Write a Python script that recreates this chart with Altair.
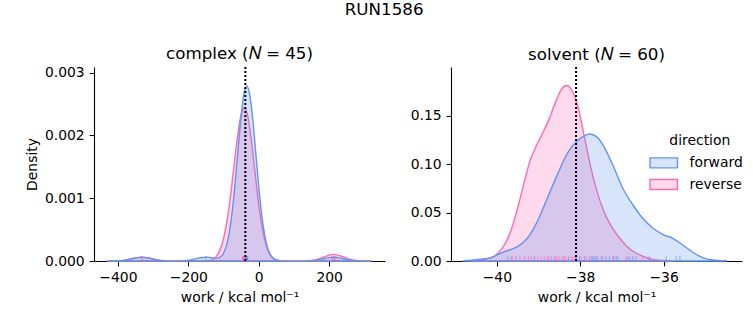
import altair as alt
import pandas as pd

FONT = "DejaVu Sans"
BLUE = "#6495ED"
PINK = "#FF69B4"
BLUE_FILL = "rgba(100,149,237,0.25)"
PINK_FILL = "rgba(255,105,180,0.25)"
DIRECTIONS = ["forward", "reverse"]

suptitle = "RUN1586"
complex_title = "complex (\U0001D441 = 45)"
solvent_title = "solvent (\U0001D441 = 60)"
x_title = "work / kcal mol\u207b\u00b9"
estimate = -38.1

# ---- complex panel: density curves ----
cf_x = [-430, -400, -380, -360, -345, -332, -318, -300, -280, -260, -240, -220, -200,
        -180, -165, -150, -135, -120, -110, -100, -90, -80, -70, -60, -50, -42, -34,
        -26, -18, -8, 2, 12, 22, 32, 42, 52, 62, 80, 120, 150, 170, 185, 200, 213,
        226, 241, 256, 276, 300, 320]
cf_y = [0.0, 0.0000031, 0.0000138, 0.0000364, 0.000054, 0.00006, 0.000054, 0.000031,
        0.0000107, 0.0000022, 0.0000006, 0.0000026, 0.0000122, 0.0000338, 0.000052,
        0.00006, 0.0000535, 0.0000455, 0.0000606, 0.000123, 0.00028, 0.000587, 0.00107,
        0.00169, 0.00231, 0.00266, 0.00279, 0.00266, 0.00231, 0.00169, 0.00107,
        0.000584, 0.000274, 0.000111, 0.000039, 0.0000117, 0.000003, 0.0, 0.0,
        0.0000048, 0.0000185, 0.0000364, 0.000054, 0.00006, 0.000054, 0.0000364,
        0.0000185, 0.0000048, 0.0000005, 0.0]

cr_x = [-430, -400, -380, -360, -345, -332, -318, -300, -280, -260, -240, -200, -170,
        -150, -140, -130, -121, -111, -101, -91, -81, -71, -61, -51, -41, -31, -21,
        -11, -1, 9, 19, 29, 39, 49, 59, 70, 90, 120, 150, 170, 185, 200, 213, 226,
        241, 256, 276, 300, 320]
cr_y = [0.0, 0.0000031, 0.0000138, 0.0000364, 0.000054, 0.00006, 0.000054, 0.000031,
        0.0000107, 0.0000022, 0.0000003, 0.0, 0.0000002, 0.0000033, 0.0000105,
        0.00003, 0.0000696, 0.000161, 0.00033, 0.00061, 0.001, 0.00148, 0.00195,
        0.00231, 0.00244, 0.0023, 0.00192, 0.00143, 0.000943, 0.000552, 0.000287,
        0.000133, 0.0000544, 0.0000198, 0.0000064, 0.0000018, 0.0, 0.0, 0.0000084,
        0.0000324, 0.0000637, 0.0000945, 0.000105, 0.0000945, 0.0000637, 0.0000324,
        0.0000084, 0.0000008, 0.0]

# ---- solvent panel ----
sf_x = [-40.8, -40.6, -40.4, -40.15, -39.85, -39.5, -39.27, -39.03, -38.79, -38.55,
        -38.31, -38.07, -37.9, -37.78, -37.6, -37.46, -37.22, -36.98, -36.74, -36.5,
        -36.26, -36.02, -35.78, -35.54, -35.3, -35.06, -34.82, -34.5]
sf_y = [0.0003, 0.0008, 0.0018, 0.0034, 0.0092, 0.015, 0.0234, 0.0406, 0.0647, 0.0888,
        0.111, 0.124, 0.129, 0.131, 0.128, 0.12, 0.099, 0.075, 0.058, 0.044, 0.034,
        0.0275, 0.0234, 0.0165, 0.009, 0.0034, 0.001, 0.0002]

sr_x = [-40.6, -40.45, -40.3, -40.1, -39.95, -39.8, -39.65, -39.5, -39.35, -39.2,
        -39.05, -38.9, -38.75, -38.6, -38.45, -38.33, -38.2, -38.05, -37.9, -37.75,
        -37.6, -37.45, -37.3, -37.1, -36.9, -36.7, -36.5, -36.3, -36.0, -35.8]
sr_y = [0.0002, 0.0008, 0.0018, 0.004, 0.009, 0.018, 0.033, 0.055, 0.08, 0.104, 0.119,
        0.132, 0.146, 0.163, 0.177, 0.181, 0.176, 0.158, 0.128, 0.097, 0.072, 0.053,
        0.039, 0.026, 0.016, 0.009, 0.005, 0.002, 0.0005, 0.0001]

# ---- rug samples ----
complex_rug_forward = [-332, -150, -38, -37, -36, -35, -34, -33, -32, -31, 210, 216]
complex_rug_reverse = [-332, -46, -45, -44, -43, -42, -41, -40, -39, 208, 213, 219]
solvent_rug_forward = [-39.74, -39.66, -39.54, -39.10, -38.70, -38.28, -38.10, -38.02,
                       -37.90, -37.74, -37.66, -37.58, -37.46, -37.38, -37.30, -37.14,
                       -37.10, -36.86, -36.81, -36.74, -36.66, -36.34, -35.94, -35.70,
                       -35.61, -37.70, -37.62, -37.20]
solvent_rug_reverse = [-39.62, -39.45, -39.34, -39.24, -39.18, -39.02, -38.94, -38.86,
                       -38.80, -38.76, -38.62, -38.58, -38.54, -38.49, -38.42, -38.38,
                       -38.34, -38.22, -38.17, -38.13, -38.10, -37.98, -37.85, -37.78,
                       -37.50, -37.22, -36.90, -36.50]

W, H = 291, 194
RUG_H = 4.85

fill_scale = alt.Scale(domain=DIRECTIONS, range=[BLUE_FILL, PINK_FILL])
stroke_scale = alt.Scale(domain=DIRECTIONS, range=[BLUE, PINK])


def curve_df(xs, ys, d):
    return pd.DataFrame({"work": xs, "density": ys, "direction": d})


def rug_df(fwd, rev):
    return pd.DataFrame({
        "work": list(fwd) + list(rev),
        "shade": [BLUE] * len(fwd) + [PINK] * len(rev),
    })


def panel(fwd, rev, rugs, xdom, xticks, ydom, yticks, yfmt, title, ytitle, legend):
    x = alt.X("work:Q", scale=alt.Scale(domain=xdom, nice=False, zero=False),
              axis=alt.Axis(values=xticks, title=x_title, format="d"))
    y = alt.Y("density:Q", scale=alt.Scale(domain=ydom, nice=False, zero=True),
              axis=alt.Axis(values=yticks, format=yfmt, title=ytitle))

    def area(df):
        return alt.Chart(df).mark_area(
            strokeWidth=1.4, interpolate="monotone", opacity=1
        ).encode(
            x=x, y=y,
            color=alt.Color("direction:N", scale=fill_scale, legend=legend),
            stroke=alt.Stroke("direction:N", scale=stroke_scale, legend=legend),
        )

    rug = alt.Chart(rugs).mark_rule(strokeWidth=1.2, opacity=0.6).encode(
        x=alt.X("work:Q"),
        y=alt.value(H), y2=alt.value(H - RUG_H),
        color=alt.Color("shade:N", scale=None),
    )
    vline = alt.Chart(pd.DataFrame({"work": [estimate]})).mark_rule(
        color="black", strokeWidth=2, strokeDash=[2, 2]
    ).encode(x="work:Q")

    return alt.layer(area(rev), area(fwd), rug, vline).properties(
        width=W, height=H,
        title=alt.TitleParams(title, anchor="middle", baseline="alphabetic", offset=-10.2),
    )


left = panel(curve_df(cf_x, cf_y, "forward"), curve_df(cr_x, cr_y, "reverse"),
             rug_df(complex_rug_forward, complex_rug_reverse),
             [-468, 358.6], [-400, -200, 0, 200], [0, 0.00309],
             [0, 0.001, 0.002, 0.003], ".3f", complex_title, "Density", None)

legend = alt.Legend(
    title="direction", orient="none", legendX=205.8, legendY=67,
    titleFont=FONT, labelFont=FONT, titleFontSize=13.9, labelFontSize=13.9,
    titleFontWeight="normal", titleColor="black", labelColor="black",
    symbolType="M-2.74,-1L2.74,-1L2.74,1L-2.74,1Z", symbolSize=100,
    symbolStrokeWidth=1.4, labelOffset=18.8, titleAnchor="middle", rowPadding=5.7,
    titlePadding=8, padding=0,
)
right = panel(curve_df(sf_x, sf_y, "forward"), curve_df(sr_x, sr_y, "reverse"),
              rug_df(solvent_rug_forward, solvent_rug_reverse),
              [-41.1, -34.12], [-40, -38, -36], [0, 0.2],
              [0, 0.05, 0.10, 0.15], ".2f", solvent_title, None, legend)

chart = alt.hconcat(left, right, spacing=25).resolve_scale(
    color="independent", stroke="independent", x="independent", y="independent"
).resolve_legend(color="independent", stroke="independent").properties(
    title=alt.TitleParams(suptitle, anchor="middle", baseline="alphabetic", offset=14.5,
                          fontSize=16.7),
    padding={"left": 25, "top": 1, "right": 5, "bottom": 5},
).configure(font=FONT).configure_view(stroke=None).configure_axis(
    labelFont=FONT, titleFont=FONT, labelFontSize=13.9, titleFontSize=13.9,
    titleFontWeight="normal", labelColor="black", titleColor="black",
    domainColor="black", tickColor="black", domainWidth=1.1, tickWidth=1.1,
    tickSize=4.9, labelPadding=4.9, grid=False, zindex=1, labelFlush=False,
    labelOverlap=False,
).configure_axisY(titlePadding=5).configure_axisX(titlePadding=6).configure_title(
    font=FONT, fontSize=16.7, fontWeight="normal", color="black"
).configure_legend(
    titleFontSize=13.9, labelFontSize=13.9, labelOffset=18.8,
)

chart.save("out.html", embed_options={"renderer": "svg", "actions": False})
